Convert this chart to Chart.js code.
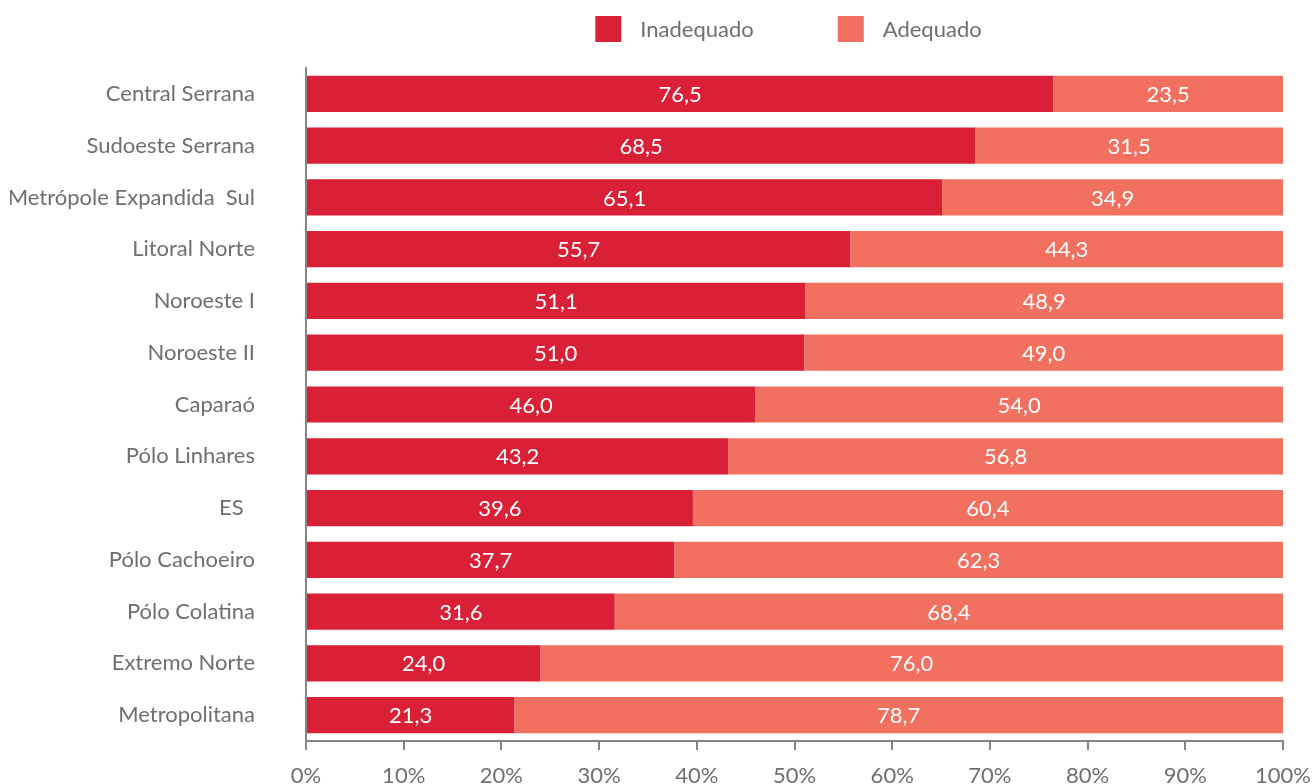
<!DOCTYPE html>
<html>
<head>
<meta charset="utf-8">
<script src="https://cdn.jsdelivr.net/npm/chart.js@4/dist/chart.umd.min.js"></script>
<style>
  html, body { margin: 0; padding: 0; background: #fff; overflow: hidden; }
  canvas { display: block; }
</style>
</head>
<body>
<canvas id="myChart" width="1313" height="784"></canvas>
<script>
const regions = ['Central Serrana', 'Sudoeste Serrana', 'Metrópole Expandida  Sul', 'Litoral Norte',
  'Noroeste I', 'Noroeste II', 'Caparaó', 'Pólo Linhares', 'ES  ', 'Pólo Cachoeiro',
  'Pólo Colatina', 'Extremo Norte', 'Metropolitana'];
const inadequado = [76.5, 68.5, 65.1, 55.7, 51.1, 51.0, 46.0, 43.2, 39.6, 37.7, 31.6, 24.0, 21.3];
const adequado = [23.5, 31.5, 34.9, 44.3, 48.9, 49.0, 54.0, 56.8, 60.4, 62.3, 68.4, 76.0, 78.7];

const FONT = 'Lato, "Open Sans", sans-serif';
const FONT_SIZE = 22;
const GREY_TEXT = '#6f6f6f';
const GREY_AXIS = '#858585';

function fmt(v) {
  return v.toFixed(1).replace('.', ',');
}

// white value labels inside each segment
const barLabels = {
  id: 'barLabels',
  afterDatasetsDraw(chart) {
    const ctx = chart.ctx;
    ctx.save();
    ctx.font = FONT_SIZE + 'px ' + FONT;
    ctx.fillStyle = '#ffffff';
    ctx.textAlign = 'center';
    ctx.textBaseline = 'middle';
    chart.data.datasets.forEach((ds, i) => {
      chart.getDatasetMeta(i).data.forEach((bar, j) => {
        ctx.fillText(fmt(ds.data[j]), (bar.x + bar.base) / 2, bar.y + 1);
      });
    });
    ctx.restore();
  }
};

// legend centred over the plot area
const topLegend = {
  id: 'topLegend',
  afterDraw(chart) {
    const ctx = chart.ctx;
    const area = chart.chartArea;
    ctx.save();
    ctx.font = FONT_SIZE + 'px ' + FONT;
    ctx.textBaseline = 'middle';
    const box = 26, gap = 19, between = 84;
    const widths = chart.data.datasets.map(ds => ctx.measureText(ds.label).width);
    let total = 0;
    widths.forEach((w, i) => { total += box + gap + w + (i > 0 ? between : 0); });
    let x = (area.left + area.right) / 2 - 6 - total / 2;
    chart.data.datasets.forEach((ds, i) => {
      ctx.fillStyle = ds.backgroundColor;
      ctx.fillRect(x, 16, box, box);
      ctx.fillStyle = GREY_TEXT;
      ctx.textAlign = 'left';
      ctx.fillText(ds.label, x + box + gap, 30);
      x += box + gap + widths[i] + between;
    });
    ctx.restore();
  }
};

new Chart(document.getElementById('myChart'), {
  type: 'bar',
  data: {
    labels: regions,
    datasets: [
      { label: 'Inadequado', data: inadequado, backgroundColor: '#da2037' },
      { label: 'Adequado', data: adequado, backgroundColor: '#f27060' }
    ]
  },
  options: {
    indexAxis: 'y',
    responsive: false,
    animation: false,
    datasets: { bar: { barPercentage: 0.7, categoryPercentage: 1 } },
    layout: { autoPadding: false, padding: { top: 68, right: 30, bottom: 0, left: 10 } },
    plugins: {
      legend: { display: false },
      tooltip: { enabled: false }
    },
    scales: {
      x: {
        stacked: true,
        min: 0,
        max: 100,
        border: { color: GREY_AXIS, width: 2 },
        grid: { drawOnChartArea: false, drawTicks: true, tickLength: 9, color: GREY_AXIS, lineWidth: 2 },
        ticks: {
          stepSize: 10,
          padding: 13,
          color: GREY_TEXT,
          font: { family: FONT, size: FONT_SIZE },
          maxRotation: 0,
          callback: v => v + '%'
        },
        afterFit(scale) {
          scale.height = 43;
          scale.paddingLeft = 0;
          scale.paddingRight = 0;
        }
      },
      y: {
        stacked: true,
        border: { color: GREY_AXIS, width: 2 },
        grid: { display: false, drawTicks: false },
        ticks: {
          padding: 51,
          color: GREY_TEXT,
          font: { family: FONT, size: FONT_SIZE }
        },
        afterFit(scale) {
          scale.width = 296;
          scale.paddingTop = 0;
          scale.paddingBottom = 0;
        }
      }
    }
  },
  plugins: [barLabels, topLegend]
});
</script>
</body>
</html>
